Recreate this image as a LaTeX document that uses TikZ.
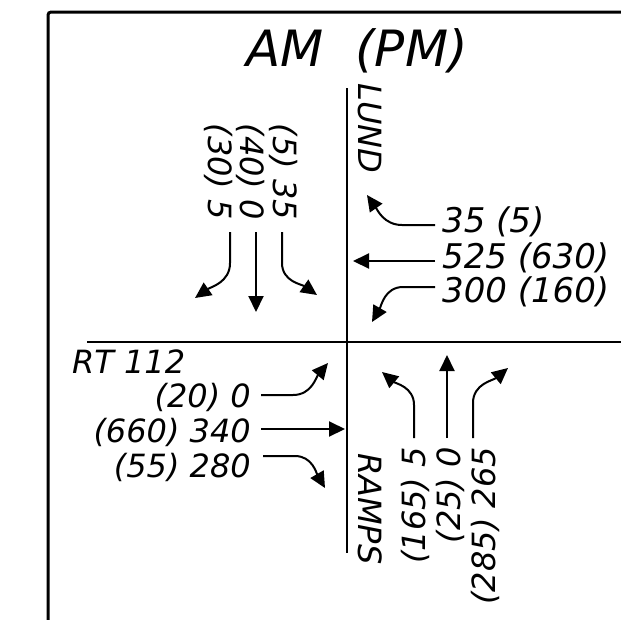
\documentclass[tikz,border=0pt]{standalone}
\usepackage{fontspec}
\setmainfont{DejaVu Sans}
\usetikzlibrary{arrows.meta}

\begin{document}
\begin{tikzpicture}[x=1pt,y=1pt,
  road/.style={line width=2.4pt},
  lbl/.style={font=\fontsize{32}{38}\selectfont\itshape,inner sep=0pt},
  biglbl/.style={font=\fontsize{34}{40}\selectfont\itshape,inner sep=0pt},
  mv/.style={line width=2pt,-{Triangle[length=16pt,width=15pt]}}]
  \useasboundingbox (0,0) rectangle (621,-619);
  % border
  \draw[line width=3pt,rounded corners=3pt] (48,-630) -- (48,-12) -- (630,-12);
  % roads
  \coordinate (lundN) at (347,-88);
  \coordinate (lundS) at (347,-553);
  \coordinate (rtW) at (87,-342);
  \coordinate (rtE) at (630,-342);
  \draw[road] (lundN) -- (lundS);
  \draw[road] (rtW) -- (rtE);
  % street names
  \node[lbl,font=\fontsize{50}{60}\selectfont\itshape,anchor=base] (title) at (357,-66) {AM~~(PM)};
  \node[lbl,rotate=-90,anchor=base west] (lund) at (358,-83) {LUND};
  \node[lbl,rotate=-90,anchor=base west] (ramps) at (358,-453) {RAMPS};
  \node[lbl,anchor=base west] (rt) at (72,-373) {RT 112};

  % southbound volumes
  \foreach \n/\x/\txt in {sb1/208/{(30) 5},sb2/240/{(40) 0},sb3/273/{(5) 35}}
    \node[lbl,rotate=-90,anchor=base east] (\n) at (\x,-220) {\txt};
  % northbound volumes
  \foreach \n/\x/\txt in {nb1/425/{(165) 5},nb2/460/{(25) 0},nb3/495/{(285) 265}}
    \node[lbl,rotate=90,anchor=base east] (\n) at (\x,-447) {\txt};
  % westbound volumes
  \foreach \n/\y/\txt in {wb1/232/{35 (5)},wb2/268/{525 (630)},wb3/302/{300 (160)}}
    \node[biglbl,anchor=base west] (\n) at (442,-\y) {\txt};
  % eastbound volumes
  \foreach \n/\y/\txt in {eb1/407/{(20) 0},eb2/442/{(660) 340},eb3/477/{(55) 280}}
    \node[lbl,anchor=base east] (\n) at (251,-\y) {\txt};

  % turning movements
  \coordinate (sb1s) at (230,-232); \coordinate (sb1t) at (195,-298);
  \coordinate (sb2s) at (256,-232); \coordinate (sb2t) at (256,-312);
  \coordinate (sb3s) at (282,-232); \coordinate (sb3t) at (317,-295);
  \draw[mv] (sb1s) -- ++(0,-31) to[out=-90,in=35] (sb1t);
  \draw[mv] (sb2s) -- (sb2t);
  \draw[mv] (sb3s) -- ++(0,-31) to[out=-90,in=145] (sb3t);

  \coordinate (nb1s) at (414,-438); \coordinate (nb1t) at (382,-372);
  \coordinate (nb2s) at (447,-438); \coordinate (nb2t) at (447,-355);
  \coordinate (nb3s) at (473,-438); \coordinate (nb3t) at (508,-368);
  \draw[mv] (nb1s) -- ++(0,33) to[out=90,in=-40] (nb1t);
  \draw[mv] (nb2s) -- (nb2t);
  \draw[mv] (nb3s) -- ++(0,35) to[out=90,in=-140] (nb3t);

  \coordinate (wb1s) at (435,-225); \coordinate (wb1t) at (367,-195);
  \coordinate (wb2s) at (435,-261); \coordinate (wb2t) at (353,-261);
  \coordinate (wb3s) at (435,-287); \coordinate (wb3t) at (372,-322);
  \draw[mv] (wb1s) -- ++(-33,0) to[out=180,in=-55] (wb1t);
  \draw[mv] (wb2s) -- (wb2t);
  \draw[mv] (wb3s) -- ++(-32,0) to[out=180,in=60] (wb3t);

  \coordinate (eb1s) at (261,-395); \coordinate (eb1t) at (328,-363);
  \coordinate (eb2s) at (261,-429); \coordinate (eb2t) at (345,-429);
  \coordinate (eb3s) at (263,-456); \coordinate (eb3t) at (325,-488);
  \draw[mv] (eb1s) -- ++(32,0) to[out=0,in=-130] (eb1t);
  \draw[mv] (eb2s) -- (eb2t);
  \draw[mv] (eb3s) -- ++(32,0) to[out=0,in=120] (eb3t);
\end{tikzpicture}
\end{document}
